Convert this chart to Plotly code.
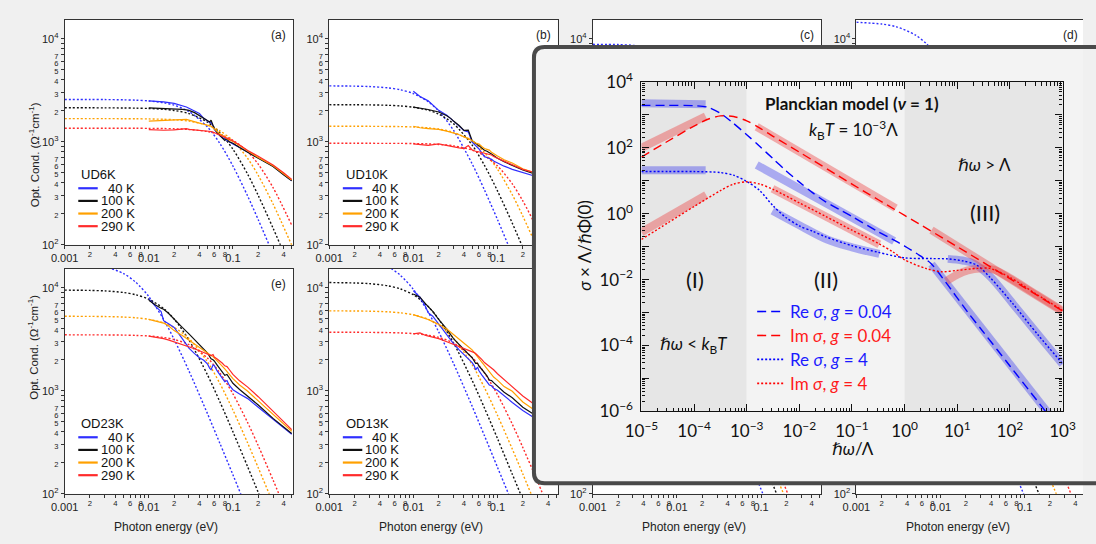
import numpy as np
import plotly.graph_objects as go

W, H = 1096, 544
PANEL_FONT = "Liberation Sans, Arial, sans-serif"
MATH_FONT = "Lato, DejaVu Sans, sans-serif"
PAGE_BG = "#f0f0f0"
BOX_BG = "#f3f3f3"
SHADE = "#e6e6e6"

# ---------------------------------------------------------------------------
# Optical conductivity spectra (Ohm^-1 cm^-1) versus photon energy (eV)
# ---------------------------------------------------------------------------
TEMPS = ["40 K", "100 K", "200 K", "290 K"]
T_COLORS = ["#2f2fff", "#111111", "#ffa000", "#ff2b2b"]

# photon energies at which the Drude fits are tabulated
E_FIT = [0.001, 0.002, 0.003, 0.005, 0.007, 0.01, 0.015, 0.02, 0.03, 0.05,
         0.07, 0.1, 0.15, 0.2, 0.3, 0.5]

# --- UD6K ---
E_UD6K = [0.010, 0.012, 0.015, 0.020, 0.025, 0.028, 0.030, 0.035, 0.040, 0.045,
          0.050, 0.053, 0.055, 0.058, 0.060, 0.065, 0.070, 0.075, 0.080, 0.085,
          0.090, 0.100, 0.120, 0.150, 0.200, 0.250, 0.300, 0.400, 0.500]
UD6K_40 = [2500, 2480, 2440, 2360, 2250, 2180, 2120, 2000, 1880, 1690, 1574, 1540, 1560, 1420, 1316,
           1220, 1141, 1100, 1062, 1040, 1000, 955, 880, 798, 692, 630, 579, 480, 418]
UD6K_100 = [2140, 2130, 2110, 2095, 2070, 2040, 2020, 1920, 1790, 1690, 1590, 1560, 1620, 1450, 1345,
            1230, 1141, 1090, 1030, 1075, 1000, 968, 880, 798, 692, 625, 575, 478, 418]
UD6K_200 = [1590, 1600, 1605, 1620, 1630, 1650, 1625, 1580, 1520, 1480, 1445, 1430, 1420, 1370, 1330,
            1260, 1200, 1150, 1110, 1080, 1045, 1010, 910, 815, 705, 640, 585, 490, 425]
UD6K_290 = [1316, 1300, 1295, 1305, 1320, 1340, 1320, 1310, 1300, 1290, 1280, 1270, 1260, 1245, 1230,
            1190, 1160, 1130, 1100, 1080, 1060, 1020, 930, 825, 725, 655, 595, 500, 432]
UD6K_FIT_40 = [2579, 2576, 2572, 2558, 2537, 2494, 2395, 2269, 1971, 1389, 963, 582, 296, 175, 81, 30]
UD6K_FIT_100 = [2140, 2139, 2137, 2132, 2124, 2108, 2069, 2017, 1882, 1550, 1225, 848, 483, 301, 145, 55]
UD6K_FIT_200 = [1680, 1680, 1679, 1677, 1675, 1669, 1656, 1638, 1588, 1448, 1279, 1024, 689, 472, 249, 99]
UD6K_FIT_290 = [1355, 1355, 1355, 1354, 1353, 1351, 1346, 1339, 1318, 1258, 1177, 1035, 800, 606, 359, 155]

# --- UD10K ---
E_UD10K = [0.010, 0.011, 0.012, 0.015, 0.020, 0.025, 0.028, 0.030, 0.035, 0.040,
           0.045, 0.050, 0.053, 0.055, 0.058, 0.060, 0.065, 0.070, 0.075, 0.080,
           0.085, 0.090, 0.100, 0.120, 0.150, 0.200, 0.250, 0.300]
UD10K_40 = [3100, 2900, 2750, 2500, 2020, 1815, 1680, 1585, 1420, 1280, 1250, 990, 950, 920,
            880, 857, 780, 718, 705, 690, 675, 650, 622, 580, 540, 502, 474, 455]
UD10K_100 = [2172, 2150, 2120, 2060, 1950, 1790, 1680, 1590, 1440, 1290, 1300, 1025, 990, 960,
             935, 922, 870, 828, 810, 790, 760, 735, 692, 640, 587, 532, 502, 480]
UD10K_200 = [1416, 1390, 1370, 1345, 1320, 1270, 1240, 1225, 1170, 1117, 1080, 1025, 990, 975,
             960, 955, 900, 860, 845, 830, 790, 765, 728, 670, 622, 547, 513, 490]
UD10K_290 = [955, 945, 935, 922, 955, 920, 895, 890, 875, 860, 920, 833, 815, 810,
             805, 800, 785, 775, 770, 765, 745, 720, 692, 650, 600, 540, 513, 495]
UD10K_FIT_40 = [3493, 3474, 3441, 3342, 3203, 2944, 2456, 1993, 1296, 611, 341, 176, 80, 46, 20, 7]
UD10K_FIT_100 = [2295, 2291, 2284, 2263, 2232, 2168, 2028, 1859, 1501, 929, 592, 334, 162, 94, 43, 16]
UD10K_FIT_200 = [1416, 1415, 1414, 1410, 1405, 1394, 1366, 1330, 1237, 1009, 791, 542, 306, 190, 91, 34]
UD10K_FIT_290 = [968, 968, 967, 966, 965, 962, 954, 943, 914, 831, 732, 584, 390, 267, 140, 56]

# --- OD23K ---
E_OD23K = [0.010, 0.012, 0.014, 0.015, 0.017, 0.020, 0.025, 0.030, 0.035, 0.040,
           0.045, 0.050, 0.053, 0.055, 0.058, 0.060, 0.065, 0.070, 0.075, 0.080,
           0.085, 0.090, 0.100, 0.120, 0.150, 0.200, 0.300, 0.400, 0.500]
OD23K_40 = [7850, 6600, 5900, 4800, 4500, 4130, 3215, 2596, 2300, 2095, 1980, 1815, 1650, 1600, 1780,
            1760, 1560, 1413, 1320, 1225, 1260, 1140, 1025, 930, 840, 692, 532, 440, 378]
OD23K_100 = [7570, 6800, 6350, 6200, 5700, 4930, 4130, 3575, 3150, 2785, 2550, 2330, 2150, 2050, 2000,
             1950, 1780, 1630, 1520, 1413, 1440, 1330, 1183, 1030, 889, 728, 540, 445, 385]
OD23K_200 = [4950, 4800, 4650, 4550, 4300, 3846, 3450, 3100, 2850, 2630, 2470, 2330, 2250, 2200, 2150,
             2095, 1960, 1841, 1730, 1630, 1530, 1460, 1315, 1140, 990, 798, 589, 480, 405]
OD23K_290 = [3404, 3330, 3260, 3215, 3120, 2993, 2825, 2690, 2560, 2450, 2360, 2280, 2230, 2200, 2250,
             2130, 2040, 1950, 1850, 1750, 1720, 1620, 1444, 1250, 1086, 877, 631, 505, 420]
OD23K_FIT_40 = [17558, 16977, 16090, 13786, 11346, 8249, 4940, 3164, 1561, 596, 309, 153, 68, 38, 17, 6]
OD23K_FIT_100 = [9508, 9444, 9339, 9015, 8571, 7760, 6295, 4982, 3120, 1421, 782, 400, 182, 103, 46, 17]
OD23K_FIT_200 = [5296, 5285, 5266, 5207, 5121, 4947, 4566, 4122, 3226, 1902, 1178, 651, 310, 179, 81, 30]
OD23K_FIT_290 = [3499, 3496, 3491, 3476, 3454, 3407, 3297, 3154, 2808, 2077, 1494, 936, 489, 293, 136, 50]

# --- OD13K ---
E_OD13K = [0.010, 0.012, 0.014, 0.015, 0.017, 0.020, 0.025, 0.030, 0.035, 0.040,
           0.045, 0.050, 0.053, 0.055, 0.058, 0.060, 0.065, 0.070, 0.075, 0.080,
           0.085, 0.090, 0.100, 0.120, 0.150, 0.200, 0.300]
OD13K_40 = [9380, 8130, 6560, 5740, 5300, 4440, 3575, 2880, 2500, 2247, 2050, 1880, 1750, 1600,
            1700, 1574, 1430, 1315, 1220, 1140, 1120, 1060, 1012, 890, 771, 645, 520]
OD13K_100 = [8730, 8130, 7000, 6560, 5900, 4930, 3980, 3215, 2800, 2500, 2280, 2095, 1950, 1850,
             1850, 1750, 1620, 1518, 1400, 1270, 1260, 1200, 1103, 970, 857, 692, 560]
OD13K_200 = [5500, 5250, 5050, 4930, 4700, 4440, 3980, 3500, 3150, 2880, 2680, 2500, 2350, 2250,
             2150, 2095, 1900, 1750, 1620, 1520, 1430, 1360, 1270, 1100, 990, 780, 620]
OD13K_290 = [3575, 3650, 3450, 3404, 3320, 3215, 2993, 2825, 2700, 2596, 2500, 2415, 2350, 2300,
             2220, 2165, 2020, 1880, 1800, 1750, 1680, 1600, 1465, 1280, 1100, 890, 700]
OD13K_FIT_40 = [20341, 19684, 18680, 16057, 13262, 9680, 5825, 3740, 1850, 707, 367, 181, 81, 45, 20, 7]
OD13K_FIT_100 = [11264, 11158, 10985, 10467, 9775, 8571, 6583, 4969, 2923, 1261, 681, 344, 155, 88, 39, 14]
OD13K_FIT_200 = [5979, 5963, 5935, 5848, 5723, 5473, 4946, 4356, 3251, 1794, 1073, 578, 272, 156, 70, 26]
OD13K_FIT_290 = [3705, 3702, 3696, 3678, 3652, 3597, 3469, 3305, 2912, 2109, 1491, 920, 474, 282, 131, 48]

# --- panels (c), (d), (g), (h): fit segments ---
C_FIT_E = [0.001, 0.002, 0.003, 0.005, 0.007, 0.01]
C_FIT_40 = [8850, 8800, 8650, 8200, 7550, 6500]
D_FIT_E = [0.001, 0.002, 0.003, 0.005, 0.007, 0.01, 0.015, 0.02]
D_FIT_40 = [14500, 13930, 13080, 10930, 8770, 6180, 3590, 2260]
G_FIT_E = [[0.080, 0.105, 0.130], [0.120, 0.153, 0.190], [0.150, 0.185, 0.220], [0.170, 0.208, 0.250]]
G_FIT = [[174, 100, 66], [163, 100, 65], [151, 100, 70], [150, 100, 69]]
H_FIT_E = [[0.075, 0.097, 0.120], [0.115, 0.148, 0.180], [0.190, 0.237, 0.290], [0.290, 0.355, 0.430]]
H_FIT = [[166, 100, 65], [165, 100, 68], [156, 100, 67], [150, 100, 68]]

PANELS = [
    dict(tag="(a)", col=0, row=0, name="UD6K", E=E_UD6K,
         data=[UD6K_40, UD6K_100, UD6K_200, UD6K_290],
         fits=[(E_FIT, UD6K_FIT_40), (E_FIT, UD6K_FIT_100), (E_FIT, UD6K_FIT_200), (E_FIT, UD6K_FIT_290)]),
    dict(tag="(b)", col=1, row=0, name="UD10K", E=E_UD10K,
         data=[UD10K_40, UD10K_100, UD10K_200, UD10K_290],
         fits=[(E_FIT, UD10K_FIT_40), (E_FIT, UD10K_FIT_100), (E_FIT, UD10K_FIT_200), (E_FIT, UD10K_FIT_290)]),
    dict(tag="(c)", col=2, row=0, name=None, E=None, data=[],
         fits=[(C_FIT_E, C_FIT_40)]),
    dict(tag="(d)", col=3, row=0, name=None, E=None, data=[],
         fits=[(D_FIT_E, D_FIT_40)]),
    dict(tag="(e)", col=0, row=1, name="OD23K", E=E_OD23K,
         data=[OD23K_40, OD23K_100, OD23K_200, OD23K_290],
         fits=[(E_FIT, OD23K_FIT_40), (E_FIT, OD23K_FIT_100), (E_FIT, OD23K_FIT_200), (E_FIT, OD23K_FIT_290)]),
    dict(tag=None, col=1, row=1, name="OD13K", E=E_OD13K,
         data=[OD13K_40, OD13K_100, OD13K_200, OD13K_290],
         fits=[(E_FIT, OD13K_FIT_40), (E_FIT, OD13K_FIT_100), (E_FIT, OD13K_FIT_200), (E_FIT, OD13K_FIT_290)]),
    dict(tag=None, col=2, row=1, name=None, E=None, data=[],
         fits=list(zip(G_FIT_E, G_FIT))),
    dict(tag=None, col=3, row=1, name=None, E=None, data=[],
         fits=list(zip(H_FIT_E, H_FIT))),
]

# ---------------------------------------------------------------------------
# Planckian model: log10(hbar*omega/Lambda) and log10(sigma*Lambda/hbar*Phi(0))
# ---------------------------------------------------------------------------
RE_G004_LW = [-5, -4.5, -4, -3.75, -3.5, -3.25, -3.0, -2.75, -2.5, -2.25, -2.0, -1.75, -1.5, -1.25,
              -1.0, -0.5, -0.25, 0, 0.29, 0.5, 0.79, 1.19, 1.5, 2.0, 2.5, 2.75, 3.0]
RE_G004_LS = [3.29, 3.29, 3.28, 3.24, 3.05, 2.74, 2.40, 2.04, 1.67, 1.30, 0.96, 0.64, 0.36, 0.14,
              -0.08, -0.55, -0.76, -0.98, -1.27, -1.51, -2.10, -2.97, -3.60, -4.62, -5.64, -6.15, -6.66]
IM_G004_LW = [-5, -4.5, -4, -3.75, -3.5, -3.25, -3.0, -2.75, -2.5, -2.0, -1.0, 0, 1.0, 2.0, 3.0]
IM_G004_LS = [1.72, 2.20, 2.66, 2.86, 2.97, 2.95, 2.82, 2.60, 2.35, 1.87, 0.90, -0.05, -1.00, -1.97, -2.95]
RE_G4_LW = [-5, -4.5, -4, -3.5, -3.25, -3.0, -2.75, -2.5, -2.25, -2.0, -1.75, -1.5, -1.0, -0.5, 0,
            0.5, 0.82, 1.1, 1.37, 1.62, 2.05, 2.54, 3.0]
RE_G4_LS = [1.28, 1.28, 1.28, 1.25, 1.17, 0.98, 0.70, 0.24, -0.12, -0.37, -0.53, -0.70, -0.97, -1.17, -1.34,
            -1.36, -1.37, -1.43, -1.56, -1.93, -2.72, -3.69, -4.55]
IM_G4_LW = [-5, -4.5, -4, -3.5, -3.25, -3.0, -2.75, -2.5, -2.0, -1.5, -1.0, -0.5, -0.23, 0, 0.4,
            0.7, 1.0, 1.37, 1.62, 2.0, 2.5, 3.0]
IM_G4_LS = [-0.78, -0.28, 0.22, 0.70, 0.90, 0.97, 0.90, 0.74, 0.33, -0.08, -0.50, -0.90, -1.15, -1.40, -1.66,
            -1.76, -1.72, -1.66, -1.66, -1.93, -2.44, -2.93]

# asymptotic forms in the three regimes (thick translucent bands)
HL_RE_G004 = [([-5, -3.78], [3.35, 3.32]),
              ([-2.81, -0.2], [1.48, -0.83]),
              ([0.51, 2.8], [-1.53, -6.2])]
HL_RE_G4 = [([-5, -3.78], [1.32, 1.32]),
            ([-2.51, -2.0, -1.46, -1.0, -0.48], [0.09, -0.35, -0.79, -1.02, -1.22]),
            ([0.82, 1.1, 1.31, 1.62, 2.05, 2.5, 3.0], [-1.37, -1.42, -1.51, -1.90, -2.72, -3.60, -4.57])]
HL_IM_G004 = [([-5, -3.78], [2.0, 2.96]),
              ([-2.81, -0.17], [2.64, 0.17]),
              ([0.51, 3.0], [-0.5, -2.97])]
HL_IM_G4 = [([-5, -3.77], [-0.56, 0.57]),
            ([-2.51, -0.48], [0.76, -0.93]),
            ([0.79, 1.0, 1.2, 1.43, 1.7, 2.0, 2.5, 3.0], [-2.05, -1.85, -1.72, -1.66, -1.70, -1.95, -2.45, -2.94])]

REGION_BOUNDS = [1e-5, 1e-3, 1e0, 1e3]
REGION_FILLS = [SHADE, BOX_BG, SHADE]

# ---------------------------------------------------------------------------
# geometry helpers (pixels -> paper fractions)
# ---------------------------------------------------------------------------
COL_LEFT = [49, 321, 592, 863]
ROW_TOP = [7, 267]
PW = PH = 235
DEC_X = 86.5      # px per decade, photon energy
DEC_Y = 107.5     # px per decade, conductivity


def fx(x):
    return x / W


def fy(y):
    return 1 - y / H


# panel ticks: labelled decades plus small digit labels in between
xt_vals, xt_text = [], []
for dec in (0.001, 0.01, 0.1):
    for m in range(1, 10):
        v = round(m * dec, 6)
        if v > 0.5:
            break
        xt_vals.append(v)
        if m == 1:
            xt_text.append(f"{dec:g}")
        elif m in (2, 4, 6, 8):
            xt_text.append(f"<sup>{m}</sup>")
        else:
            xt_text.append("")

yt_vals, yt_text = [], []
for e in (2, 3, 4):
    for m in range(1, 10):
        v = m * 10 ** e
        if v > 15400:
            break
        yt_vals.append(v)
        if m == 1:
            yt_text.append(f"10<sup>{e}</sup>")
        elif m <= 7:
            yt_text.append(f"<span style='font-size:7.5px'>{m}</span>")
        else:
            yt_text.append("")

fig = go.Figure()
layout = {}
annotations = []
shapes = []


def add_text(text, x, y, size, color="#111", family=PANEL_FONT, xanchor="center", angle=0):
    annotations.append(dict(text=text, x=fx(x), y=fy(y), xref="paper", yref="paper",
                            xanchor=xanchor, yanchor="middle", showarrow=False, textangle=angle,
                            font=dict(size=size, color=color, family=family)))


for k, p in enumerate(PANELS, start=1):
    sfx = "" if k == 1 else str(k)
    left = COL_LEFT[p["col"]]
    top = ROW_TOP[p["row"]]
    right = min(left + PW, W)
    bottom = top + PH
    frame_right = left + PW <= W
    axis_common = dict(type="log", showgrid=False, zeroline=False, showline=True,
                       linecolor="#333", linewidth=1, ticks="outside", ticklen=3,
                       tickwidth=1, tickcolor="#333", tickmode="array", tickangle=0,
                       tickfont=dict(size=11, family=PANEL_FONT, color="#222"))
    layout["xaxis" + sfx] = dict(axis_common, domain=[fx(left), fx(right)],
                                 range=[-3, -3 + (right - left) / DEC_X],
                                 anchor="y" + sfx, tickvals=xt_vals, ticktext=xt_text,
                                 mirror=True)
    layout["yaxis" + sfx] = dict(axis_common, domain=[fy(bottom), fy(top)],
                                 range=[2, 2 + PH / DEC_Y],
                                 anchor="x" + sfx, tickvals=yt_vals, ticktext=yt_text,
                                 mirror=frame_right)
    shapes.append(dict(type="rect", xref="paper", yref="paper", layer="below",
                       x0=fx(left), x1=fx(right), y0=fy(bottom), y1=fy(top),
                       fillcolor="white", line=dict(width=0)))

    for (E, vals), col in zip(p["fits"], T_COLORS):
        fig.add_trace(go.Scatter(x=E, y=vals, mode="lines", xaxis="x" + sfx, yaxis="y" + sfx,
                                 line=dict(color=col, width=1.4, dash="2px,2px",
                                           shape="spline", smoothing=0.8),
                                 showlegend=False, hoverinfo="skip"))
    for vals, col in zip(p["data"], T_COLORS):
        fig.add_trace(go.Scatter(x=p["E"], y=vals, mode="lines", xaxis="x" + sfx, yaxis="y" + sfx,
                                 line=dict(color=col, width=1.2),
                                 showlegend=False, hoverinfo="skip"))

    if p["tag"]:
        add_text(p["tag"], left + PW - 15, top + 15.5, 12, color="#222")
    if p["name"]:
        add_text(p["name"], left + 15, top + 162, 13, color="#111", xanchor="left")
        for i, (lab, col) in enumerate(zip(TEMPS, T_COLORS)):
            yy = top + 176 + 13.2 * i
            shapes.append(dict(type="line", xref="paper", yref="paper", layer="above",
                               x0=fx(left + 14), x1=fx(left + 34), y0=fy(yy), y1=fy(yy),
                               line=dict(color=col, width=2.2)))
            add_text(lab, left + 74, yy, 13, color="#111", xanchor="right")
    if p["col"] == 0:
        add_text("Opt. Cond. (Ω<sup>-1</sup>cm<sup>-1</sup>)", 17,
                 148 if p["row"] == 0 else 349, 11.5, color="#222", angle=-90)
    if p["row"] == 1:
        add_text("Photon energy (eV)", left + PW / 2 - 13, 537, 12, color="#222")

# ---------------------------------------------------------------------------
# framed box holding the Planckian-model plot
# ---------------------------------------------------------------------------
BOX_L, BOX_T, BOX_B = 531.5, 35.5, 491
layout["xaxis9"] = dict(domain=[fx(BOX_L), 1.0], range=[0, 1], visible=False, anchor="y9", fixedrange=True)
layout["yaxis9"] = dict(domain=[fy(BOX_B), fy(BOX_T)], range=[0, 1], visible=False, anchor="x9", fixedrange=True)
fig.add_trace(go.Scatter(x=[0.5], y=[0.5], mode="markers", marker=dict(size=1, opacity=0),
                         xaxis="x9", yaxis="y9", showlegend=False, hoverinfo="skip"))

r = 11
x0, x1 = fx(BOX_L), fx(1130)
yt, yb = fy(BOX_T), fy(BOX_B)
rx, ry = r / W, r / H
box_path = (f"M {x0 + rx},{yt} L {x1},{yt} L {x1},{yb} L {x0 + rx},{yb} "
            f"Q {x0},{yb} {x0},{yb + ry} L {x0},{yt - ry} Q {x0},{yt} {x0 + rx},{yt} Z")
shapes.append(dict(type="path", path=box_path, xref="paper", yref="paper", layer="above",
                   line=dict(color="#4a4a4a", width=4), fillcolor="rgba(0,0,0,0)"))

# ---------------------------------------------------------------------------
# Planckian-model plot
# ---------------------------------------------------------------------------
IN_L, IN_R, IN_T, IN_B = 642, 1075, 72, 416


def sup_exp(k):
    return f"10<sup>{'−' + str(-k) if k < 0 else k}</sup>"


ix_vals = [10.0 ** k for k in range(-5, 4)]
ix_text = [sup_exp(k) for k in range(-5, 4)]
iy_vals = [10.0 ** k for k in range(-6, 5)]
iy_text = [sup_exp(k) if k % 2 == 0 else "" for k in range(-6, 5)]
ix_minor = [m * 10.0 ** k for k in range(-5, 3) for m in range(2, 10)]
iy_minor = [m * 10.0 ** k for k in range(-6, 4) for m in range(2, 10)]

inset_axis = dict(type="log", showgrid=False, zeroline=False, showline=True, linecolor="#111",
                  linewidth=1.2, ticks="inside", ticklen=7, tickwidth=1, tickcolor="#111",
                  mirror="allticks", tickmode="array", tickangle=0, ticklabelstandoff=4,
                  tickfont=dict(size=17, family=MATH_FONT, color="#111"))
layout["xaxis10"] = dict(inset_axis, domain=[fx(IN_L), fx(IN_R)], range=[-5, 3], anchor="y10",
                         tickvals=ix_vals, ticktext=ix_text,
                         minor=dict(ticks="inside", ticklen=3.5, tickcolor="#111", tickvals=ix_minor))
layout["yaxis10"] = dict(inset_axis, domain=[fy(IN_B), fy(IN_T)], range=[-6, 4], anchor="x10",
                         tickvals=iy_vals, ticktext=iy_text,
                         minor=dict(ticks="inside", ticklen=3.5, tickcolor="#111", tickvals=iy_minor))

for b0, b1, fill in zip(REGION_BOUNDS[:-1], REGION_BOUNDS[1:], REGION_FILLS):
    fig.add_trace(go.Scatter(x=[b0, b1, b1, b0, b0], y=[1e-6, 1e-6, 1e4, 1e4, 1e-6],
                             mode="lines", fill="toself", fillcolor=fill, line=dict(width=0),
                             xaxis="x10", yaxis="y10", showlegend=False, hoverinfo="skip"))

BLUE_BAND = "rgba(70,70,235,0.42)"
RED_BAND = "rgba(235,70,70,0.42)"
for bands, col in ((HL_RE_G004, BLUE_BAND), (HL_RE_G4, BLUE_BAND),
                   (HL_IM_G004, RED_BAND), (HL_IM_G4, RED_BAND)):
    for lw, ls in bands:
        fig.add_trace(go.Scatter(x=np.power(10.0, lw), y=np.power(10.0, ls), mode="lines",
                                 line=dict(color=col, width=8, shape="spline"),
                                 xaxis="x10", yaxis="y10", showlegend=False, hoverinfo="skip"))

MODEL_CURVES = [
    (RE_G004_LW, RE_G004_LS, "#0000ff", "9px,5px", "Re <i>σ</i>, <i>g</i> = 0.04"),
    (IM_G004_LW, IM_G004_LS, "#ff0000", "9px,5px", "Im <i>σ</i>, <i>g</i> = 0.04"),
    (RE_G4_LW, RE_G4_LS, "#0000ff", "2px,2px", "Re <i>σ</i>, <i>g</i> = 4"),
    (IM_G4_LW, IM_G4_LS, "#ff0000", "2px,2px", "Im <i>σ</i>, <i>g</i> = 4"),
]
for i, (lw, ls, col, dash, lab) in enumerate(MODEL_CURVES):
    fig.add_trace(go.Scatter(x=np.power(10.0, lw), y=np.power(10.0, ls), mode="lines",
                             line=dict(color=col, width=1.4, dash=dash, shape="spline", smoothing=0.8),
                             xaxis="x10", yaxis="y10", showlegend=False, hoverinfo="skip"))
    yy = 311.7 + 25 * i
    shapes.append(dict(type="line", xref="paper", yref="paper", layer="above",
                       x0=fx(761), x1=fx(788), y0=fy(yy), y1=fy(yy),
                       line=dict(color=col, width=1.6, dash=dash)))
    add_text(lab, 793, yy, 17, color="#1a1aff" if col == "#0000ff" else "#ff1a1a",
             family=MATH_FONT, xanchor="left")

add_text("<b>Planckian model (<i>ν</i> = 1)</b>", 858.7, 94, 17, family=MATH_FONT)
add_text("<i>k</i><sub>B</sub><i>T</i> = 10<sup>−3</sup>Λ", 860, 121.7, 17, family=MATH_FONT)
add_text("<i>ℏω</i> &gt; Λ", 995, 157.7, 17, family=MATH_FONT)
add_text("(III)", 995, 208, 22, family=MATH_FONT)
add_text("(I)", 696.6, 278, 22, family=MATH_FONT)
add_text("(II)", 832, 278, 22, family=MATH_FONT)
add_text("<i>ℏω</i> &lt; <i>k</i><sub>B</sub><i>T</i>", 696, 346.7, 17, family=MATH_FONT)
add_text("<i>σ</i> × Λ/<i>ℏ</i>Φ(0)", 584, 243, 17, family=MATH_FONT, angle=-90)
add_text("<i>ℏω</i>/Λ", 859.6, 455, 17, family=MATH_FONT)

fig.update_layout(width=W, height=H, margin=dict(l=0, r=0, t=0, b=0),
                  paper_bgcolor=PAGE_BG, plot_bgcolor=BOX_BG, showlegend=False,
                  hovermode=False, annotations=annotations, shapes=shapes, **layout)
fig.write_html("out.html")
